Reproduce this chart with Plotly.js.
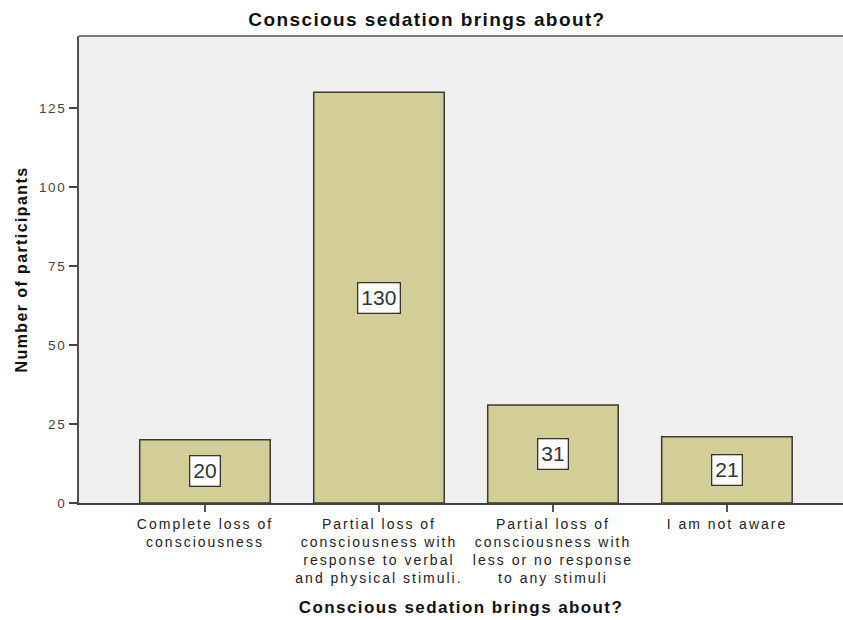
<!DOCTYPE html>
<html>
<head>
<meta charset="utf-8">
<script src="https://cdn.plot.ly/plotly-3.0.1.min.js"></script>
<style>
  html, body { margin: 0; padding: 0; background: #ffffff; }
  #chart { width: 843px; height: 620px; }
  /* slightly widened lettering for the axis and title text */
  .xtick text { letter-spacing: 2px; }
  .ytick text { letter-spacing: 1.6px; }
  .g-gtitle text, .g-xtitle text, .g-ytitle text { letter-spacing: 1.4px; }
</style>
</head>
<body>
<div id="chart"></div>
<script>
// Answer categories (x axis), as printed under each bar
const categories = [
  "Complete loss of<br>consciousness",
  "Partial loss of<br>consciousness with<br>response to verbal<br>and physical stimuli.",
  "Partial loss of<br>consciousness with<br>less or no response<br>to any stimuli",
  "I am not aware"
];

// Number of participants choosing each answer
const counts = [20, 130, 31, 21];

// Y axis tick values
const yTicks = [0, 25, 50, 75, 100, 125];

const chartTitle = "Conscious sedation brings about?";
const xTitle = "Conscious sedation brings about?";
const yTitle = "Number of participants";

const FONT = "Liberation Sans, Arial, sans-serif";

const barTrace = {
  type: "bar",
  x: categories,
  y: counts,
  width: 0.75,
  marker: {
    color: "#d3ce97",
    line: { color: "#3a3a32", width: 1.5 }
  },
  hoverinfo: "x+y"
};

// Boxed count label centred in each bar
const valueLabels = categories.map((c, i) => ({
  x: c,
  y: counts[i] / 2,
  xref: "x",
  yref: "y",
  text: String(counts[i]),
  showarrow: false,
  font: { family: FONT, size: 21, color: "#333333" },
  bgcolor: "#ffffff",
  bordercolor: "#333333",
  borderwidth: 1.3,
  borderpad: 3,
  xanchor: "center",
  yanchor: "middle"
}));

const layout = {
  width: 843,
  height: 620,
  paper_bgcolor: "#ffffff",
  plot_bgcolor: "#efefef",
  margin: { l: 79, r: 0, t: 36, b: 117, pad: 0 },
  showlegend: false,
  title: {
    text: chartTitle,
    font: { family: FONT, size: 19, color: "#111111", weight: "bold" },
    x: 427 / 843,
    xref: "container",
    xanchor: "center",
    y: 1 - 19 / 620,
    yref: "container",
    yanchor: "middle"
  },
  xaxis: {
    type: "category",
    range: [-0.724, 3.667],
    showgrid: false,
    zeroline: false,
    showline: true,
    linecolor: "#404040",
    linewidth: 2,
    ticks: "outside",
    ticklen: 7,
    tickwidth: 1.5,
    tickcolor: "#555555",
    tickfont: { family: FONT, size: 14, color: "#222222" },
    title: {
      text: xTitle,
      font: { family: FONT, size: 17, color: "#111111", weight: "bold" },
      standoff: 16
    },
    automargin: false,
    fixedrange: true
  },
  yaxis: {
    range: [0, 147.8],
    tickvals: yTicks,
    ticktext: yTicks.map(String),
    showgrid: false,
    zeroline: false,
    showline: true,
    linecolor: "#505050",
    linewidth: 2,
    ticks: "outside",
    ticklen: 8,
    tickwidth: 1.5,
    tickcolor: "#444444",
    tickfont: { family: FONT, size: 13.5, color: "#444444" },
    title: {
      text: yTitle,
      font: { family: FONT, size: 16, color: "#111111", weight: "bold" },
      standoff: 7
    },
    automargin: false,
    fixedrange: true
  },
  shapes: [
    // top frame line of the plot area
    {
      type: "line", xref: "paper", yref: "paper",
      x0: 0, x1: 1, y0: 1, y1: 1,
      line: { color: "#7a7a7a", width: 2 }
    }
  ],
  annotations: valueLabels
};

Plotly.newPlot("chart", [barTrace], layout, { displayModeBar: false, staticPlot: true });
</script>
</body>
</html>
